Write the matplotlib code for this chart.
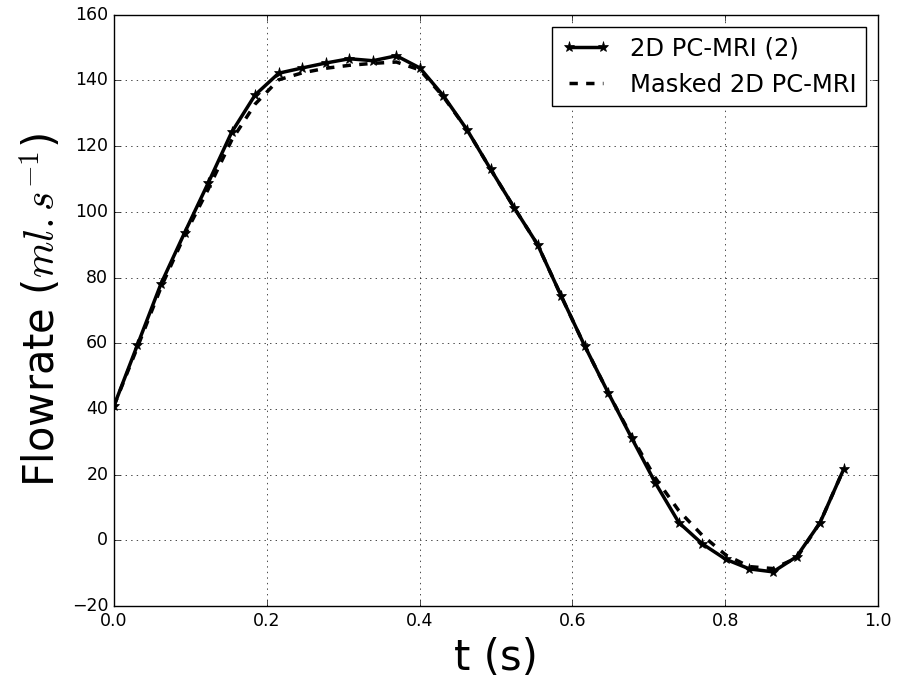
import matplotlib
matplotlib.use('Agg')
import matplotlib.pyplot as plt
import numpy as np

plt.style.use('classic')

dt = 0.0308
t = np.arange(32) * dt

q_pcmri = [40.9, 59.5, 78.1, 93.6, 108.7, 124.2, 135.6, 142.2, 143.8, 145.3,
           146.6, 146.0, 147.5, 143.8, 135.3, 125.0, 113.0, 101.3, 90.0, 74.4,
           59.2, 44.9, 31.1, 17.5, 5.4, -1.1, -5.8, -8.7, -9.6, -5.0,
           5.4, 21.6]
q_masked = [40.9, 58.8, 77.0, 92.8, 106.8, 121.8, 132.8, 140.2, 142.3, 143.7,
            144.6, 145.2, 145.6, 143.2, 135.0, 125.0, 113.0, 101.3, 90.0, 74.4,
            59.2, 44.9, 31.5, 19.0, 9.0, 1.5, -4.5, -8.0, -8.6, -5.4,
            5.4, 21.6]

fig = plt.figure(figsize=(8.97, 6.82), dpi=100, facecolor='white')
ax = fig.add_axes([0.127, 0.1114, 0.852, 0.867])

ax.plot(t, q_pcmri, 'k-', marker='*', markersize=8, linewidth=2.5,
        label='2D PC-MRI (2)')
ax.plot(t, q_masked, 'k--', linewidth=2.5, label='Masked 2D PC-MRI')

ax.set_xlim(0, 1)
ax.set_ylim(-20, 160)
ax.set_xlabel('t (s)', fontsize=30)
ax.set_ylabel(r'Flowrate ($ml.s^{-1}$)', fontsize=30)
ax.tick_params(labelsize=12.5)
ax.grid(True)
ax.legend(loc='upper right', fontsize=17.5)

fig.savefig('out.png', dpi=100, facecolor='white')
